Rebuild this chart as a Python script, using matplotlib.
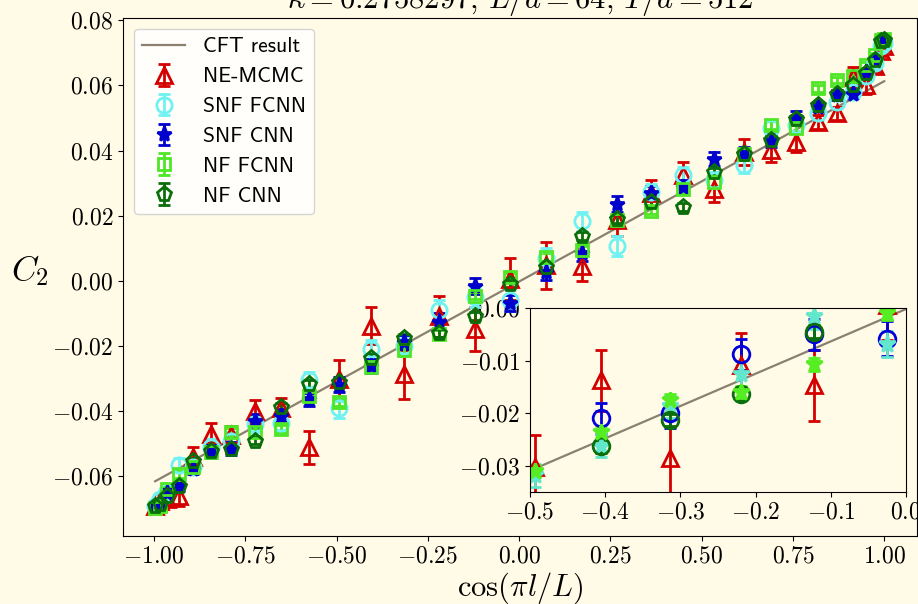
import matplotlib
matplotlib.use("Agg")
import matplotlib.pyplot as plt

plt.rcParams['font.family'] = 'serif'
plt.rcParams['font.serif'] = ['cmr10']
plt.rcParams['mathtext.fontset'] = 'cm'
plt.rcParams['axes.formatter.use_mathtext'] = True
plt.rcParams['axes.unicode_minus'] = True

BG = '#fffbe7'

# cos(pi l / L) positions
x = [-0.997, -0.985, -0.964, -0.933, -0.893, -0.845, -0.788, -0.724,
     -0.653, -0.576, -0.493, -0.405, -0.314, -0.219, -0.122, -0.025,
     0.074, 0.171, 0.267, 0.360, 0.450, 0.535, 0.615, 0.690,
     0.757, 0.818, 0.870, 0.914, 0.950, 0.976, 0.992, 1.000]

ne_mcmc = [-0.0690, -0.0675, -0.0668, -0.0660, -0.0540, -0.0470, -0.0474, -0.0400,
           -0.0390, -0.0511, -0.0302, -0.0137, -0.0286, -0.0109, -0.0147, 0.0005,
           0.0048, 0.0045, 0.0188, 0.0270, 0.0324, 0.0283, 0.0396, 0.0401,
           0.0427, 0.0488, 0.0514, 0.0626, 0.0600, 0.0660, 0.0705, 0.0720]
ne_mcmc_err = [0.0015, 0.002, 0.002, 0.003, 0.003, 0.0035, 0.003, 0.0035,
               0.003, 0.005, 0.006, 0.0058, 0.0075, 0.0062, 0.0068, 0.0065,
               0.0072, 0.0045, 0.005, 0.004, 0.004, 0.004, 0.004, 0.0035,
               0.003, 0.0022, 0.002, 0.003, 0.0025, 0.002, 0.0015, 0.0015]

snf_fcnn = [-0.0690, -0.0668, -0.0645, -0.0565, -0.0570, -0.0510, -0.0490, -0.0440,
            -0.0435, -0.0305, -0.0390, -0.0210, -0.0199, -0.0088, -0.0050, -0.0058,
            0.0070, 0.0183, 0.0107, 0.0273, 0.0324, 0.0310, 0.0355, 0.0468,
            0.0480, 0.0514, 0.0550, 0.0580, 0.0630, 0.0670, 0.0720, 0.0730]
snf_fcnn_err = [0.0015, 0.0015, 0.002, 0.002, 0.002, 0.0025, 0.0025, 0.0025,
                0.0025, 0.0025, 0.003, 0.003, 0.003, 0.003, 0.003, 0.0034,
                0.003, 0.003, 0.003, 0.0025, 0.0025, 0.0025, 0.0025, 0.0025,
                0.002, 0.002, 0.002, 0.002, 0.0015, 0.0015, 0.0015, 0.0015]

snf_cnn = [-0.0692, -0.0686, -0.0650, -0.0630, -0.0578, -0.0525, -0.0515, -0.0430,
           -0.0414, -0.0363, -0.0318, -0.0262, -0.0187, -0.0125, -0.0015, -0.0068,
           0.0028, 0.0085, 0.0235, 0.0270, 0.0288, 0.0375, 0.0390, 0.0430,
           0.0500, 0.0535, 0.0570, 0.0575, 0.0640, 0.0678, 0.0735, 0.0738]
snf_cnn_err = [0.0012, 0.0012, 0.0015, 0.0015, 0.0015, 0.002, 0.002, 0.002,
               0.002, 0.002, 0.0022, 0.0022, 0.0022, 0.0025, 0.0025, 0.0025,
               0.0025, 0.0025, 0.0025, 0.0022, 0.0022, 0.0022, 0.002, 0.002,
               0.002, 0.0015, 0.0015, 0.0015, 0.0012, 0.0012, 0.0012, 0.0012]

nf_fcnn = [-0.0698, -0.0690, -0.0640, -0.0594, -0.0570, -0.0525, -0.0465, -0.0465,
           -0.0455, -0.0353, -0.0373, -0.0263, -0.0213, -0.0163, -0.0045, 0.0012,
           0.0074, 0.0095, 0.0186, 0.0216, 0.0283, 0.0304, 0.0390, 0.0478,
           0.0468, 0.0591, 0.0616, 0.0630, 0.0662, 0.0693, 0.0739, 0.0742]
nf_fcnn_err = [0.0008, 0.0008, 0.001, 0.001, 0.001, 0.0012, 0.0012, 0.0012,
               0.0012, 0.0012, 0.0012, 0.0012, 0.0012, 0.0012, 0.0012, 0.0012,
               0.0012, 0.0012, 0.0012, 0.0012, 0.0012, 0.0012, 0.0012, 0.0012,
               0.0012, 0.001, 0.001, 0.001, 0.001, 0.0008, 0.0008, 0.0008]

nf_cnn = [-0.0690, -0.0686, -0.0660, -0.0630, -0.0553, -0.0522, -0.0517, -0.0490,
          -0.0388, -0.0317, -0.0310, -0.0236, -0.0175, -0.0160, -0.0107, -0.0010,
          0.0043, 0.0139, 0.0189, 0.0242, 0.0227, 0.0334, 0.0391, 0.0432,
          0.0498, 0.0539, 0.0575, 0.0600, 0.0637, 0.0678, 0.0735, 0.0738]
nf_cnn_err = [0.0008, 0.0008, 0.001, 0.001, 0.001, 0.0012, 0.0012, 0.0012,
              0.0012, 0.0012, 0.0012, 0.0012, 0.0012, 0.0012, 0.0012, 0.0012,
              0.0012, 0.0012, 0.0012, 0.0012, 0.0012, 0.0012, 0.0012, 0.0012,
              0.0012, 0.001, 0.001, 0.001, 0.001, 0.0008, 0.0008, 0.0008]

cft_x = [-0.997, 1.000]
cft_y = [-0.0615, 0.0613]

labels = ['NE-MCMC', 'SNF FCNN', 'SNF CNN', 'NF FCNN', 'NF CNN']
series = [(ne_mcmc, ne_mcmc_err), (snf_fcnn, snf_fcnn_err), (snf_cnn, snf_cnn_err),
          (nf_fcnn, nf_fcnn_err), (nf_cnn, nf_cnn_err)]

# main plot styles: marker, color, filled, size
main_styles = [('^', '#d40000', False, 12), ('o', '#6ef2f2', False, 11),
               ('*', '#0000cc', True, 11), ('s', '#4ee626', False, 9),
               ('p', '#0a6e0a', False, 11)]
# inset styles
inset_styles = [('^', '#d40000', False, 12), ('o', '#0000dd', False, 12),
                ('*', '#62e6cc', True, 12), ('o', '#0a6e0a', False, 12),
                ('*', '#55ee22', True, 12)]

CFT_COLOR = '#8a8070'

fig = plt.figure(figsize=(9.18, 6.04), dpi=100, facecolor=BG)
ax = fig.add_axes([0.134, 0.1126, 0.865, 0.8576], facecolor=BG)


def draw(axis, styles):
    for (y, err), (m, c, filled, ms), lab in zip(series, styles, labels):
        axis.errorbar(x, y, yerr=err, fmt=m, color=c, ms=ms, mew=2,
                      mfc=c if filled else 'none', mec=c,
                      elinewidth=2, capsize=4, capthick=2, label=lab)


ax.plot(cft_x, cft_y, color=CFT_COLOR, lw=1.6, label='CFT result')
draw(ax, main_styles)

ax.set_xlim(-1.085, 1.09)
ax.set_ylim(-0.0783, 0.0807)
ax.set_xticks([-1.0, -0.75, -0.5, -0.25, 0.0, 0.25, 0.5, 0.75, 1.0])
ax.set_yticks([-0.06, -0.04, -0.02, 0.0, 0.02, 0.04, 0.06, 0.08])
ax.tick_params(labelsize=17)
ax.set_xlabel(r'$\cos(\pi l/L)$', fontsize=22, labelpad=2)
ax.set_ylabel(r'$C_2$', fontsize=25, rotation=0, ha='center', va='center')
ax.yaxis.set_label_coords(-0.117, 0.513)
ax.set_title(r'$\kappa = 0.2758297,\, L/a = 64,\, T/a = 512$', fontsize=22, pad=1)

ax.legend(loc='upper left', prop={'family': 'cmss10', 'size': 15.5})

# inset zoom on the central region
ins = ax.inset_axes([0.5126, 0.0849, 0.4735, 0.3552], facecolor=BG)
ins.set_zorder(1.5)
ins.plot(cft_x, cft_y, color=CFT_COLOR, lw=1.6)
draw(ins, inset_styles)
ins.set_xlim(-0.5, 0.0)
ins.set_ylim(-0.035, 0.0)
ins.set_xticks([-0.5, -0.4, -0.3, -0.2, -0.1, 0.0])
ins.set_yticks([-0.03, -0.02, -0.01, 0.0])
ins.tick_params(labelsize=17)

fig.savefig('out.png', dpi=100, facecolor=BG)
